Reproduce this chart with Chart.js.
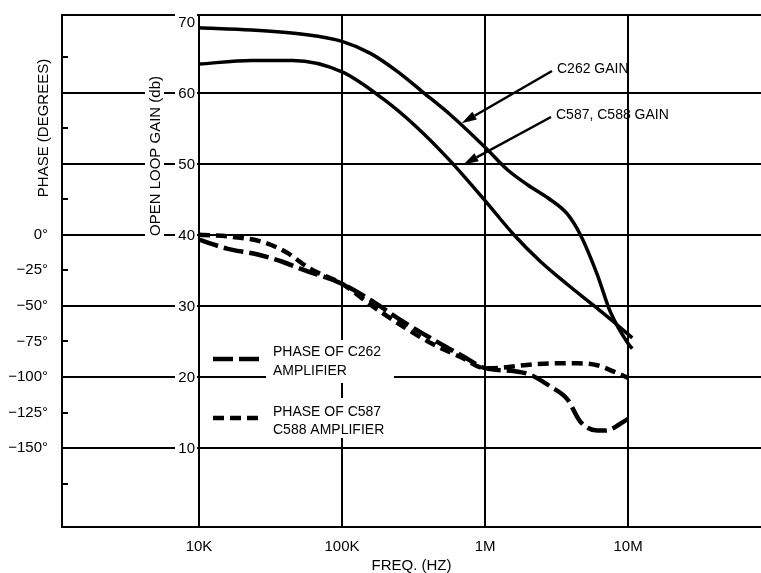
<!DOCTYPE html>
<html><head><meta charset="utf-8">
<style>html,body{margin:0;padding:0;background:#fff;}canvas{display:block}</style>
<script src="https://cdn.jsdelivr.net/npm/chart.js@4.4.0/dist/chart.umd.min.js"></script>
</head><body>
<canvas id="c" width="761" height="573"></canvas>
<script>
// ---- data ----
const freqTicks = [1e4, 1e5, 1e6, 1e7];
const freqLabels = ['10K', '100K', '1M', '10M'];
const gainTicks = [10, 20, 30, 40, 50, 60, 70];
const phaseTicks = [-175, -150, -125, -100, -75, -50, -25, 0, 25, 50, 75, 100, 125];
const phaseGridValues = [-150, -100, -50, 0, 50, 100];
const phaseLabelValues = [0, -25, -50, -75, -100, -125, -150];
const phaseLabels = ['0°', '−25°', '−50°', '−75°', '−100°', '−125°', '−150°'];

const c262GainFreq = [1e4, 2.33e4, 5.33e4, 1e5, 1.58e5, 2.46e5, 3.65e5, 5.85e5, 1e6, 1.44e6, 1.99e6, 2.74e6, 3.77e6, 4.64e6, 6.09e6, 7.5e6, 1e7, 1.07e7];
const c262Gain = [69.1, 68.8, 68.2, 67.2, 65.5, 62.9, 60.1, 56.7, 52.3, 49.1, 47.0, 45.2, 42.9, 40.0, 34.4, 29.2, 24.7, 24.0];

const c587GainFreq = [1e4, 2.33e4, 4.52e4, 1e5, 1.94e5, 3.26e5, 5.58e5, 1e6, 1.59e6, 2.45e6, 3.77e6, 5.71e6, 7.87e6, 1.07e7];
const c587Gain = [64.0, 64.5, 64.5, 62.9, 59.1, 55.3, 50.6, 44.8, 40.0, 36.2, 33.0, 30.1, 27.8, 25.5];

const c262PhaseFreq = [1e4, 1.59e4, 2.45e4, 3.83e4, 5.33e4, 1e5, 1.66e5, 2.66e5, 4.27e5, 6.85e5, 1e6, 1.59e6, 2.09e6, 2.87e6, 3.77e6, 4.64e6, 6.09e6, 6.92e6, 1e7];
const c262Phase = [-3.5, -9.9, -13.4, -19.0, -24.6, -34.5, -47.2, -61.0, -73.3, -84.9, -93.8, -95.9, -98.6, -106.8, -115.8, -131.5, -137.7, -137.7, -129.5];

const c587PhaseFreq = [1e4, 1.67e4, 2.75e4, 4.02e4, 5.98e4, 1e5, 1.66e5, 2.66e5, 4.27e5, 6.85e5, 1e6, 1.29e6, 2.19e6, 3.37e6, 4.43e6, 6.09e6, 8.39e6, 1e7];
const c587Phase = [0, -1.4, -4.9, -12.0, -23.9, -34.5, -50.7, -64.4, -76.7, -86.3, -93.8, -93.5, -91.1, -90.4, -90.4, -91.8, -97.3, -100.7];

// annotation arrows: label and the point on the curve the arrow points at
const gainNotes = ['C262 GAIN', 'C587, C588 GAIN'];
const gainNoteFreq = [6.86e5, 7.06e5];
const gainNoteGain = [55.4, 49.6];

const legendTitles = [['PHASE OF C262', 'AMPLIFIER'], ['PHASE OF C587', 'C588 AMPLIFIER']];

// ---- styling ----
const FONT = "'Liberation Sans', Arial, Helvetica, sans-serif";
const LONG_DASH = [20, 6];
const SHORT_DASH = [11, 6];
Chart.defaults.font.family = FONT;
Chart.defaults.color = '#000';

const pts = (xs, ys) => xs.map((x, i) => ({x: x, y: ys[i]}));
const X_MIN = 1102, X_MAX = 8.5e7;

const decor = {
  id: 'decor',
  beforeDatasetsDraw(chart) {
    const ctx = chart.ctx, g = chart.scales.gain;
    ctx.save();
    ctx.font = '15px ' + FONT;
    ctx.textBaseline = 'middle';
    // gain axis title
    const t = 'OPEN LOOP GAIN (db)';
    const tw = ctx.measureText(t).width;
    ctx.fillStyle = '#fff';
    ctx.fillRect(145, 156 - tw / 2 - 3, 19, tw + 6);
    ctx.fillStyle = '#000';
    ctx.save(); ctx.translate(155, 156); ctx.rotate(-Math.PI / 2);
    ctx.textAlign = 'center'; ctx.fillText(t, 0, 1); ctx.restore();
    // phase axis title
    ctx.save(); ctx.translate(43, 128); ctx.rotate(-Math.PI / 2);
    ctx.textAlign = 'center'; ctx.fillText('PHASE (DEGREES)', 0, 1); ctx.restore();
    // gain tick labels
    ctx.textAlign = 'right';
    gainTicks.forEach(v => {
      const y = g.getPixelForValue(v);
      ctx.fillStyle = '#fff';
      ctx.fillRect(175, y - 8, 22, 16);
      ctx.fillStyle = '#000';
      ctx.fillText(String(v), 195, y + 1);
    });
    // legend
    ctx.font = '14px ' + FONT;
    ctx.textAlign = 'left';
    const boxes = [[340, 383], [398, 438]];
    const textY = [[352, 371], [412, 430]];
    const sampleY = [359, 418];
    const dashes = [LONG_DASH, SHORT_DASH];
    for (let i = 0; i < 2; i++) {
      ctx.fillStyle = '#fff';
      ctx.fillRect(266, boxes[i][0], 128, boxes[i][1] - boxes[i][0]);
      ctx.fillStyle = '#000';
      ctx.fillText(legendTitles[i][0], 273, textY[i][0]);
      ctx.fillText(legendTitles[i][1], 273, textY[i][1]);
      ctx.strokeStyle = '#000'; ctx.lineWidth = 4.5; ctx.lineCap = 'butt';
      ctx.setLineDash(dashes[i]);
      ctx.beginPath(); ctx.moveTo(213, sampleY[i]); ctx.lineTo(263, sampleY[i]); ctx.stroke();
      ctx.setLineDash([]);
    }
    ctx.restore();
  },
  afterDatasetsDraw(chart) {
    const ctx = chart.ctx, x = chart.scales.x, g = chart.scales.gain;
    ctx.save();
    ctx.font = '14px ' + FONT;
    ctx.textBaseline = 'middle';
    ctx.textAlign = 'left';
    ctx.fillStyle = '#000';
    ctx.strokeStyle = '#000';
    const textPos = [[557, 69, 552, 71], [556, 115, 551, 117]];
    for (let i = 0; i < gainNotes.length; i++) {
      const [tx, ty, ax, ay] = textPos[i];
      ctx.fillText(gainNotes[i], tx, ty);
      const px = x.getPixelForValue(gainNoteFreq[i]);
      const py = g.getPixelForValue(gainNoteGain[i]) - 2;
      const ang = Math.atan2(py - ay, px - ax);
      const hl = 15, hw = 4.5;
      const bx = px - hl * Math.cos(ang), by = py - hl * Math.sin(ang);
      ctx.lineWidth = 2.5;
      ctx.beginPath(); ctx.moveTo(ax, ay); ctx.lineTo(bx, by); ctx.stroke();
      ctx.beginPath();
      ctx.moveTo(px, py);
      ctx.lineTo(bx + hw * Math.sin(ang), by - hw * Math.cos(ang));
      ctx.lineTo(bx - hw * Math.sin(ang), by + hw * Math.cos(ang));
      ctx.closePath(); ctx.fill();
    }
    ctx.restore();
  }
};

new Chart(document.getElementById('c'), {
  type: 'line',
  data: {
    datasets: [
      {label: 'C262 GAIN', data: pts(c262GainFreq, c262Gain), yAxisID: 'gain', borderColor: '#000', borderWidth: 3.5},
      {label: 'C587, C588 GAIN', data: pts(c587GainFreq, c587Gain), yAxisID: 'gain', borderColor: '#000', borderWidth: 3.5},
      {label: 'PHASE OF C262 AMPLIFIER', data: pts(c262PhaseFreq, c262Phase), yAxisID: 'phase', borderColor: '#000', borderWidth: 4.5, borderDash: LONG_DASH},
      {label: 'PHASE OF C587 C588 AMPLIFIER', data: pts(c587PhaseFreq, c587Phase), yAxisID: 'phase', borderColor: '#000', borderWidth: 4.5, borderDash: SHORT_DASH}
    ]
  },
  options: {
    responsive: false,
    animation: false,
    devicePixelRatio: 1,
    layout: {padding: {top: 15, left: 0, right: 0, bottom: 0}},
    elements: {point: {radius: 0}, line: {cubicInterpolationMode: 'monotone', borderCapStyle: 'butt', fill: false}},
    plugins: {legend: {display: false}, tooltip: {enabled: false}},
    scales: {
      x: {
        type: 'logarithmic', position: 'bottom', min: X_MIN, max: X_MAX,
        afterBuildTicks: s => { s.ticks = freqTicks.map(v => ({value: v})); },
        afterFit: s => { s.height = 46; s.paddingLeft = 0; s.paddingRight = 0; },
        ticks: {callback: (v) => freqLabels[freqTicks.indexOf(v)] ?? '', padding: 11, font: {size: 15}, maxRotation: 0, color: '#000'},
        grid: {color: '#000', lineWidth: 2, drawTicks: false},
        border: {color: '#000', width: 2},
        title: {display: true, text: 'FREQ. (HZ)', font: {size: 15, lineHeight: 1}, padding: {top: 0, bottom: 0}, color: '#000'}
      },
      xTop: {
        type: 'logarithmic', position: 'top', min: X_MIN, max: X_MAX,
        afterFit: s => { s.height = 0; s.paddingLeft = 0; s.paddingRight = 0; },
        ticks: {display: false},
        grid: {display: false, drawOnChartArea: false, drawTicks: false},
        border: {display: true, color: '#000', width: 2}
      },
      phase: {
        type: 'linear', position: 'left', min: -205.5, max: 154.5,
        afterBuildTicks: s => { s.ticks = phaseTicks.map(v => ({value: v})); },
        afterFit: s => { s.width = 62; s.paddingTop = 0; s.paddingBottom = 0; },
        ticks: {
          callback: v => { const k = phaseLabelValues.indexOf(v); return k >= 0 ? phaseLabels[k] : ''; },
          padding: 20, font: {size: 15}, color: '#000'
        },
        grid: {
          color: c => (c.tick && phaseGridValues.includes(c.tick.value)) ? '#000' : 'rgba(0,0,0,0)',
          lineWidth: 2, drawTicks: true, tickLength: -6, tickColor: '#000', tickWidth: 2
        },
        border: {color: '#000', width: 2}
      },
      gain: {type: 'linear', position: 'right', display: false, min: -1.1, max: 70.9,
        grid: {display: false}, border: {display: false}}
    }
  },
  plugins: [decor]
});
</script>
</body></html>
